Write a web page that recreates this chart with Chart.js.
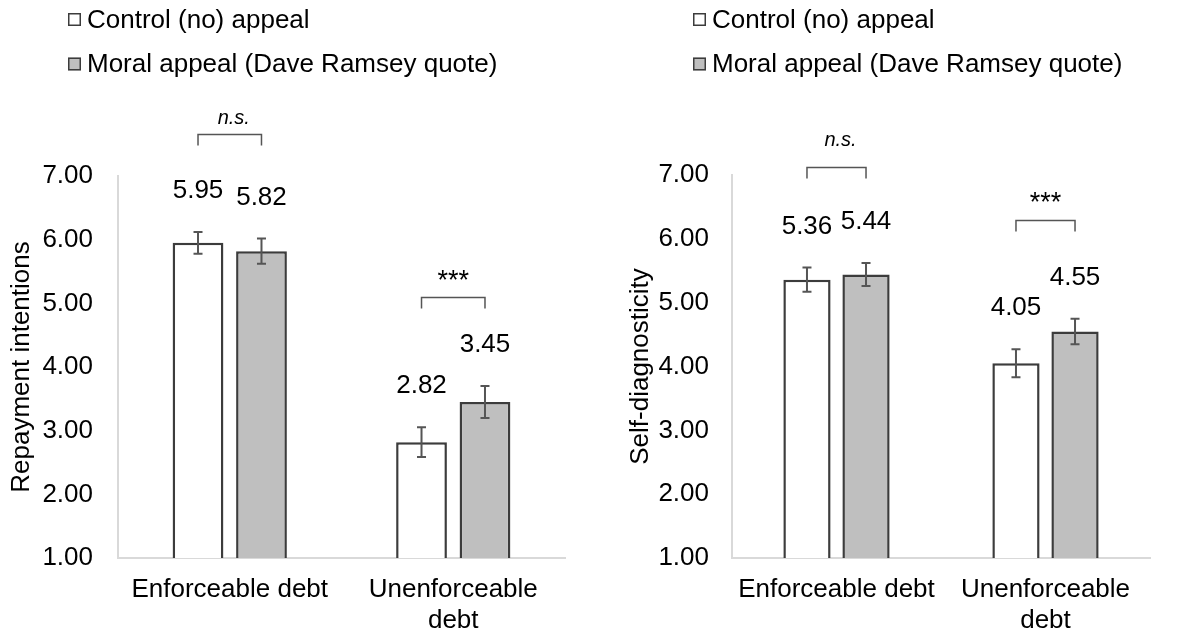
<!DOCTYPE html>
<html>
<head>
<meta charset="utf-8">
<script src="https://cdn.jsdelivr.net/npm/chart.js@4.4.1/dist/chart.umd.min.js"></script>
<style>
  html, body { margin: 0; padding: 0; background: #fff; }
  #wrap { position: relative; width: 1182px; height: 635px; overflow: hidden; }
  canvas { position: absolute; top: 0; }
  #left { left: 0; }
  #right { left: 591px; }
</style>
</head>
<body>
<div id="wrap">
  <canvas id="left" width="591" height="635"></canvas>
  <canvas id="right" width="591" height="635"></canvas>
</div>
<script>
// ---- data ----
const categories = ['Enforceable debt', ['Unenforceable', 'debt']];
const seriesNames = ['Control (no) appeal', 'Moral appeal (Dave Ramsey quote)'];
const yTicks = [1, 2, 3, 4, 5, 6, 7];

// Repayment intentions
const repayControl = [5.95, 2.82];
const repayMoral = [5.82, 3.45];
const repayControlErr = [0.17, 0.235];
const repayMoralErr = [0.20, 0.25];
const repaySig = ['n.s.', '***'];

// Self-diagnosticity
const diagControl = [5.36, 4.05];
const diagMoral = [5.44, 4.55];
const diagControlErr = [0.19, 0.22];
const diagMoralErr = [0.18, 0.20];
const diagSig = ['n.s.', '***'];

// ---- styling ----
const FONT = '"Liberation Sans", Arial, Helvetica, sans-serif';
const INK = '#000000';
const EDGE = '#3c3c3c';
const WHISKER = '#555555';
const AXIS = '#d9d9d9';
const fills = ['#ffffff', '#bfbfbf'];

// Draws error bars, value labels, significance brackets and the legend.
const decorations = {
  id: 'decorations',
  afterDatasetsDraw(chart, args, opts) {
    const ctx = chart.ctx;
    const y = chart.scales.y;
    ctx.save();

    // error bars + value labels
    chart.data.datasets.forEach((ds, di) => {
      const meta = chart.getDatasetMeta(di);
      meta.data.forEach((bar, i) => {
        const v = ds.data[i];
        const e = ds.errors[i];
        const top = y.getPixelForValue(v + e);
        const bot = y.getPixelForValue(v - e);
        ctx.strokeStyle = WHISKER;
        ctx.lineWidth = 2;
        ctx.beginPath();
        ctx.moveTo(bar.x, top); ctx.lineTo(bar.x, bot);
        ctx.moveTo(bar.x - 4.5, top); ctx.lineTo(bar.x + 4.5, top);
        ctx.moveTo(bar.x - 4.5, bot); ctx.lineTo(bar.x + 4.5, bot);
        ctx.stroke();

        ctx.fillStyle = INK;
        ctx.font = '26px ' + FONT;
        ctx.textAlign = 'center';
        ctx.textBaseline = 'middle';
        ctx.fillText(v.toFixed(2), bar.x, top - opts.labelGap);
      });
    });

    // significance brackets
    const m0 = chart.getDatasetMeta(0), m1 = chart.getDatasetMeta(1);
    opts.brackets.forEach((b, i) => {
      const x0 = m0.data[i].x, x1 = m1.data[i].x;
      const yt = Math.round(y.getPixelForValue(b.level)) + 0.5;
      ctx.strokeStyle = WHISKER;
      ctx.lineWidth = 1.5;
      ctx.beginPath();
      ctx.moveTo(x0, yt + 11); ctx.lineTo(x0, yt); ctx.lineTo(x1, yt); ctx.lineTo(x1, yt + 11);
      ctx.stroke();
      ctx.fillStyle = INK;
      ctx.textAlign = 'center';
      ctx.textBaseline = 'alphabetic';
      const label = opts.sig[i];
      ctx.font = label === 'n.s.' ? 'italic 20px ' + FONT : '27px ' + FONT;
      const dx = label === 'n.s.' ? 4 : 0;
      ctx.fillText(label, (x0 + x1) / 2 + dx, yt - b.textGap);
    });

    // legend
    chart.data.datasets.forEach((ds, di) => {
      const cy = opts.legend.y[di];
      const bx = opts.legend.x;
      ctx.fillStyle = ds.backgroundColor;
      ctx.fillRect(bx, cy - 6.5, 13, 13);
      ctx.strokeStyle = EDGE;
      ctx.lineWidth = 1.5;
      ctx.strokeRect(bx + 0.75, cy - 5.75, 11.5, 11.5);
      ctx.fillStyle = INK;
      ctx.font = '26px ' + FONT;
      ctx.textAlign = 'left';
      ctx.textBaseline = 'middle';
      ctx.fillText(ds.label, bx + 19, cy + 1);
    });
    ctx.restore();
  }
};

function makeChart(id, cfg) {
  return new Chart(document.getElementById(id), {
    type: 'bar',
    data: {
      labels: categories,
      datasets: [
        { label: seriesNames[0], data: cfg.control, errors: cfg.controlErr,
          backgroundColor: fills[0], borderColor: EDGE, borderWidth: 2.5,
          categoryPercentage: cfg.catPct, barPercentage: 0.8 },
        { label: seriesNames[1], data: cfg.moral, errors: cfg.moralErr,
          backgroundColor: fills[1], borderColor: EDGE, borderWidth: 2.5,
          categoryPercentage: cfg.catPct, barPercentage: 0.8 }
      ]
    },
    options: {
      responsive: false,
      animation: false,
      devicePixelRatio: 1,
      layout: { padding: { top: cfg.top, right: cfg.right, left: 0, bottom: 0 } },
      plugins: {
        legend: { display: false },
        tooltip: { enabled: false },
        decorations: {
          labelGap: 41,
          sig: cfg.sig,
          brackets: cfg.brackets,
          legend: cfg.legend
        }
      },
      scales: {
        x: {
          grid: { display: false, drawTicks: false },
          border: { display: true, color: AXIS, width: 2 },
          ticks: { color: INK, font: { family: FONT, size: 26 }, padding: 16,
                   maxRotation: 0, autoSkip: false },
          afterFit(s) { s.height = 635 - cfg.bottomPx; }
        },
        y: {
          min: yTicks[0], max: yTicks[yTicks.length - 1],
          grid: { display: false, drawTicks: false },
          border: { display: true, color: AXIS, width: 2 },
          afterBuildTicks(s) { s.ticks = yTicks.map(v => ({ value: v })); },
          ticks: { color: INK, font: { family: FONT, size: 26 }, padding: cfg.tickPad,
                   callback: v => Number(v).toFixed(2) },
          title: { display: true, text: cfg.title, color: INK,
                   font: { family: FONT, size: 26 }, padding: { top: cfg.titlePad, bottom: 0 } },
          afterFit(s) { s.width = cfg.axisX; }
        }
      }
    },
    plugins: [decorations]
  });
}

makeChart('left', {
  control: repayControl, moral: repayMoral,
  controlErr: repayControlErr, moralErr: repayMoralErr,
  sig: repaySig,
  brackets: [{ level: 7.656, textGap: 11 }, { level: 5.097, textGap: 9 }],
  title: 'Repayment intentions',
  top: 176, right: 26, bottomPx: 558, axisX: 118, tickPad: 25, titlePad: 6,
  catPct: 0.568,
  legend: { x: 68, y: [19.5, 64] }
});

makeChart('right', {
  control: diagControl, moral: diagMoral,
  controlErr: diagControlErr, moralErr: diagMoralErr,
  sig: diagSig,
  brackets: [{ level: 7.126, textGap: 22 }, { level: 6.295, textGap: 10 }],
  title: 'Self-diagnosticity',
  top: 175, right: 32, bottomPx: 558, axisX: 141, tickPad: 23, titlePad: 34,
  catPct: 0.565,
  legend: { x: 102, y: [19.5, 64] }
});
</script>
</body>
</html>
